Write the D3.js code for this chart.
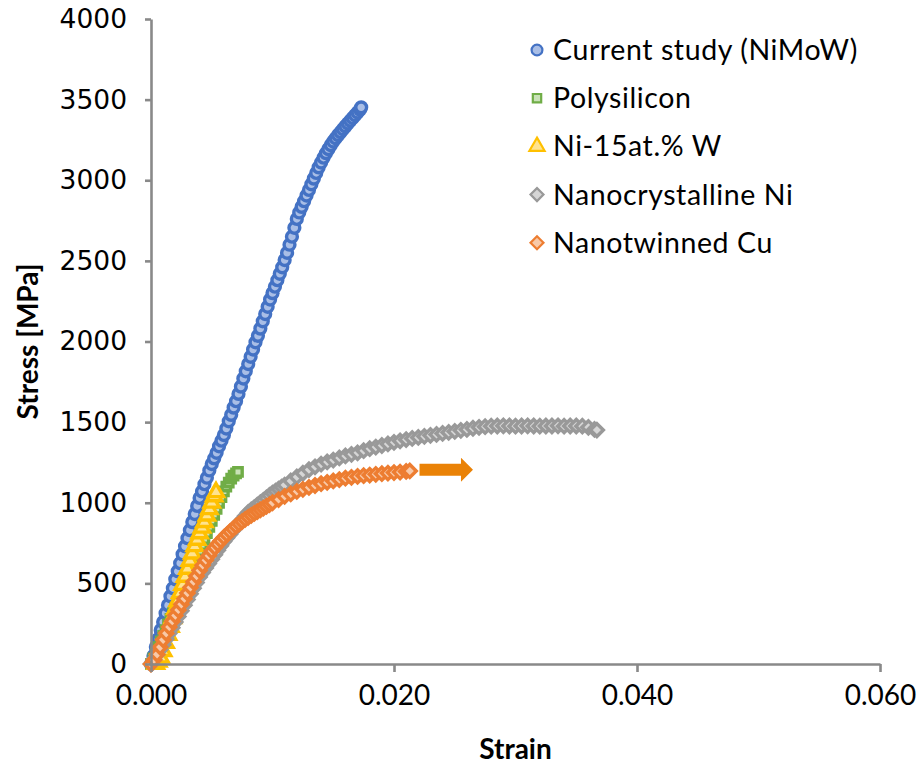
<!DOCTYPE html>
<html lang="en">
<head>
  <meta charset="UTF-8">
  <title>Stress-strain comparison</title>
  <script src="https://d3js.org/d3.v7.min.js"></script>
  <style>
    body { margin: 0; background: #fff; }
  </style>
</head>
<body>
  <script>
    // [strain, stress MPa]
    const currentStudy = [
      [0, 0], [0.0002, 50], [0.0004, 105], [0.0006, 155], [0.0008, 210], [0.0010, 260],
      [0.0012, 315], [0.0014, 365], [0.0016, 420], [0.0018, 470], [0.0020, 525], [0.0022, 575],
      [0.0024, 625], [0.0026, 680], [0.0028, 730], [0.0030, 780], [0.0032, 830], [0.0034, 880],
      [0.0036, 930], [0.0038, 980], [0.0040, 1030], [0.0042, 1070], [0.0044, 1115], [0.0046, 1155],
      [0.0048, 1200], [0.0050, 1240], [0.0052, 1275], [0.0054, 1310], [0.0056, 1350], [0.0058, 1385],
      [0.0060, 1420], [0.0062, 1460], [0.0064, 1505], [0.0066, 1545], [0.0068, 1590], [0.0070, 1630],
      [0.0072, 1675], [0.0074, 1720], [0.0076, 1770], [0.0078, 1815], [0.0080, 1860], [0.0082, 1905],
      [0.0084, 1950], [0.0086, 1995], [0.0088, 2035], [0.0090, 2080], [0.0092, 2125], [0.0094, 2170],
      [0.0096, 2215], [0.0098, 2260], [0.0100, 2300], [0.0102, 2340], [0.0104, 2380], [0.0106, 2420],
      [0.0108, 2460], [0.0110, 2505], [0.0112, 2550], [0.0114, 2600], [0.0116, 2650], [0.0118, 2705],
      [0.0120, 2760], [0.0122, 2800], [0.0124, 2835], [0.0126, 2870], [0.0128, 2905], [0.0130, 2940],
      [0.0132, 2975], [0.0134, 3010], [0.0136, 3045], [0.0138, 3080], [0.0140, 3110], [0.0142, 3140],
      [0.0144, 3168], [0.0146, 3193], [0.0148, 3218], [0.0150, 3240], [0.0152, 3260], [0.0154, 3280],
      [0.0156, 3298], [0.0158, 3316], [0.0160, 3334], [0.0162, 3352], [0.0164, 3369], [0.0166, 3386],
      [0.0168, 3403], [0.0170, 3420], [0.0172, 3437], [0.0173, 3452]
    ];
    const polysilicon = [
      [0, 0], [0.0002, 35], [0.0004, 70], [0.0006, 105], [0.0008, 140], [0.0010, 175],
      [0.0012, 210], [0.0014, 245], [0.0016, 280], [0.0018, 315], [0.0020, 350], [0.0022, 385],
      [0.0024, 420], [0.0026, 455], [0.0028, 490], [0.0030, 525], [0.0032, 560], [0.0034, 595],
      [0.0036, 630], [0.0038, 665], [0.0040, 700], [0.0042, 738], [0.0044, 775], [0.0046, 812],
      [0.0048, 850], [0.0050, 888], [0.0052, 925], [0.0054, 962], [0.0056, 1000], [0.0058, 1035],
      [0.0060, 1070], [0.0062, 1100], [0.0064, 1125], [0.0066, 1150], [0.0068, 1168], [0.0070, 1182],
      [0.00716, 1191]
    ];
    const niW = [
      [0.0004, 0], [0.0006, 15], [0.0008, 40], [0.0010, 80], [0.0012, 130], [0.0014, 180],
      [0.0016, 230], [0.0018, 285], [0.0020, 340], [0.0022, 390], [0.0024, 440], [0.0026, 490],
      [0.0028, 540], [0.0030, 590], [0.0032, 640], [0.0034, 685], [0.0036, 730], [0.0038, 770],
      [0.0040, 810], [0.0042, 845], [0.0044, 880], [0.0046, 920], [0.0048, 960], [0.0050, 1000],
      [0.0052, 1040], [0.00535, 1065]
    ];
    const nanoNi = [
      [0, 0], [0.00025, 28], [0.0005, 58], [0.00075, 88], [0.001, 120], [0.00125, 155],
      [0.0015, 190], [0.00175, 225], [0.002, 260], [0.00225, 295], [0.0025, 330], [0.00275, 365],
      [0.003, 400], [0.00325, 435], [0.0035, 470], [0.00375, 505], [0.004, 540], [0.00425, 568],
      [0.0045, 596], [0.00475, 623], [0.005, 650], [0.00525, 678], [0.0055, 705], [0.00575, 733],
      [0.006, 760], [0.00625, 783], [0.0065, 805], [0.00675, 828], [0.007, 850], [0.00725, 873],
      [0.0075, 895], [0.00775, 918], [0.008, 940], [0.00825, 955], [0.0085, 970], [0.00875, 985],
      [0.009, 1000], [0.00925, 1015], [0.0095, 1030], [0.00975, 1045], [0.010, 1060], [0.01025, 1072],
      [0.0105, 1085], [0.01075, 1097], [0.011, 1110], [0.0115, 1135], [0.012, 1160], [0.0125, 1183],
      [0.013, 1205], [0.0135, 1223], [0.014, 1240], [0.0145, 1253], [0.015, 1265], [0.0155, 1278],
      [0.016, 1290], [0.0165, 1300], [0.017, 1310], [0.0175, 1323], [0.018, 1335], [0.0185, 1345],
      [0.019, 1355], [0.0195, 1365], [0.020, 1375], [0.0205, 1384], [0.021, 1392], [0.0215, 1399],
      [0.022, 1405], [0.0225, 1412], [0.023, 1418], [0.0235, 1424], [0.024, 1430], [0.0245, 1436],
      [0.025, 1442], [0.0255, 1449], [0.026, 1455], [0.0265, 1462], [0.027, 1468], [0.0275, 1472],
      [0.028, 1475], [0.0285, 1476], [0.029, 1477], [0.0295, 1476], [0.030, 1475], [0.0305, 1476],
      [0.031, 1477], [0.0315, 1476], [0.032, 1475], [0.0325, 1476], [0.033, 1476], [0.0335, 1477],
      [0.034, 1475], [0.0345, 1476], [0.035, 1476], [0.0355, 1475], [0.036, 1468], [0.0365, 1455],
      [0.0367, 1451]
    ];
    const nanoCu = [
      [0, 0], [0.00025, 25], [0.0005, 60], [0.00075, 105], [0.001, 150], [0.00125, 190],
      [0.0015, 230], [0.00175, 265], [0.002, 300], [0.00225, 335], [0.0025, 370], [0.00275, 405],
      [0.003, 440], [0.00325, 475], [0.0035, 510], [0.00375, 545], [0.004, 580], [0.00425, 612],
      [0.0045, 643], [0.00475, 672], [0.005, 700], [0.00525, 722], [0.0055, 744], [0.00575, 765],
      [0.006, 785], [0.00625, 803], [0.0065, 821], [0.00675, 838], [0.007, 855], [0.00725, 869],
      [0.0075, 883], [0.00775, 897], [0.008, 910], [0.00825, 922], [0.0085, 934], [0.00875, 945],
      [0.009, 956], [0.00925, 967], [0.0095, 978], [0.00975, 989], [0.010, 1000], [0.0105, 1020],
      [0.011, 1040], [0.0115, 1055], [0.012, 1070], [0.0125, 1083], [0.013, 1095], [0.0135, 1107],
      [0.014, 1118], [0.0145, 1127], [0.015, 1135], [0.0155, 1144], [0.016, 1152], [0.0165, 1158],
      [0.017, 1163], [0.0175, 1168], [0.018, 1172], [0.0185, 1176], [0.019, 1180], [0.0195, 1184],
      [0.020, 1187], [0.0205, 1190], [0.021, 1194], [0.0213, 1197]
    ];

    const seriesNames = ["Current study (NiMoW)", "Polysilicon", "Ni-15at.% W", "Nanocrystalline Ni", "Nanotwinned Cu"];
    const seriesData = [currentStudy, polysilicon, niW, nanoNi, nanoCu];
    const xTicks = [0, 0.02, 0.04, 0.06];
    const yTicks = [0, 500, 1000, 1500, 2000, 2500, 3000, 3500, 4000];
    // arrow annotation next to the Cu curve (strain from, strain to, stress)
    const arrowFrom = 0.0221, arrowTo = 0.0265, arrowStress = 1205;

    const styles = [
      { stroke: "#4472C4", fill: "#A9BEE6", shape: "circle" },
      { stroke: "#70AD47", fill: "#C9E2B8", shape: "square" },
      { stroke: "#FFC000", fill: "#FFE38F", shape: "triangle" },
      { stroke: "#999999", fill: "#D6D6D6", shape: "diamond" },
      { stroke: "#ED7D31", fill: "#F8C9A8", shape: "diamond" }
    ];

    const width = 922, height = 769;
    const margin = { left: 151, right: 42, top: 19, bottom: 105 };

    const svg = d3.select("body").append("svg")
      .attr("width", width)
      .attr("height", height);

    const x = d3.scaleLinear().domain([0, 0.06]).range([margin.left, width - margin.right]);
    const y = d3.scaleLinear().domain([0, 4000]).range([height - margin.bottom, margin.top]);

    const symbolPath = {
      circle: d3.symbol().type(d3.symbolCircle).size(92)(),
      square: d3.symbol().type(d3.symbolSquare).size(70)(),
      triangle: d3.symbol().type(d3.symbolTriangle).size(100)(),
      diamond: d3.symbol().type(d3.symbolSquare).size(84)()
    };

    // series, drawn in order so later ones sit on top
    seriesData.forEach((data, i) => {
      const st = styles[i];
      svg.append("g")
        .selectAll("path")
        .data(data)
        .enter()
        .append("path")
        .attr("d", symbolPath[st.shape])
        .attr("transform", d => `translate(${x(d[0])},${y(d[1])})` + (st.shape === "diamond" ? " rotate(45)" : ""))
        .style("fill", st.fill)
        .style("stroke", st.stroke)
        .style("stroke-width", 3.4);
    });

    // axes
    const axisColor = "#898989";
    const xAxis = svg.append("g")
      .attr("transform", `translate(0,${y(0)})`)
      .call(d3.axisBottom(x).tickValues(xTicks).tickFormat(d3.format(".3f")).tickSize(8).tickSizeOuter(0).tickPadding(13));
    const yAxis = svg.append("g")
      .attr("transform", `translate(${x(0)},0)`)
      .call(d3.axisLeft(y).tickValues(yTicks).tickFormat(d3.format("d")).tickSize(6).tickSizeOuter(0).tickPadding(18));

    [xAxis, yAxis].forEach(a => {
      a.select(".domain").style("stroke", axisColor).style("stroke-width", 2.6);
      a.selectAll(".tick line").style("stroke", axisColor).style("stroke-width", 2.6);
    });
    xAxis.selectAll("text")
      .style("font-family", "Lato, 'Open Sans', sans-serif")
      .style("font-size", "28px")
      .style("fill", "#000");
    yAxis.selectAll("text")
      .style("font-family", "'DejaVu Sans', sans-serif")
      .style("font-size", "26.5px")
      .style("fill", "#000");

    // axis titles
    svg.append("text")
      .attr("x", (x(0) + x(0.06)) / 2)
      .attr("y", 759)
      .attr("text-anchor", "middle")
      .style("font-family", "Lato, sans-serif")
      .style("font-weight", "bold")
      .style("font-size", "28px")
      .text("Strain");
    svg.append("text")
      .attr("transform", `translate(38,${(y(0) + y(4000)) / 2}) rotate(-90)`)
      .attr("text-anchor", "middle")
      .style("font-family", "Lato, sans-serif")
      .style("font-weight", "bold")
      .style("font-size", "28px")
      .text("Stress [MPa]");

    // arrow
    const ay = y(arrowStress), ax0 = x(arrowFrom), ax1 = x(arrowTo);
    svg.append("path")
      .attr("d", `M${ax0},${ay - 6} L${ax1 - 12},${ay - 6} L${ax1 - 12},${ay - 12} L${ax1},${ay} L${ax1 - 12},${ay + 12} L${ax1 - 12},${ay + 6} L${ax0},${ay + 6} Z`)
      .style("fill", "#EA8206");

    // legend
    const legend = svg.append("g").attr("transform", "translate(537,50)");
    seriesNames.forEach((name, i) => {
      const st = styles[i];
      const row = legend.append("g").attr("transform", `translate(0,${i * 48.2})`);
      row.append("path")
        .attr("d", symbolPath[st.shape])
        .attr("transform", st.shape === "diamond" ? "rotate(45)" : null)
        .style("fill", st.fill)
        .style("stroke", st.stroke)
        .style("stroke-width", 2.2);
      row.append("text")
        .attr("x", 16)
        .attr("dy", "0.35em")
        .style("font-family", "Lato, sans-serif")
        .style("font-size", "28.5px")
        .style("letter-spacing", "0.6px")
        .text(name);
    });
  </script>
</body>
</html>
